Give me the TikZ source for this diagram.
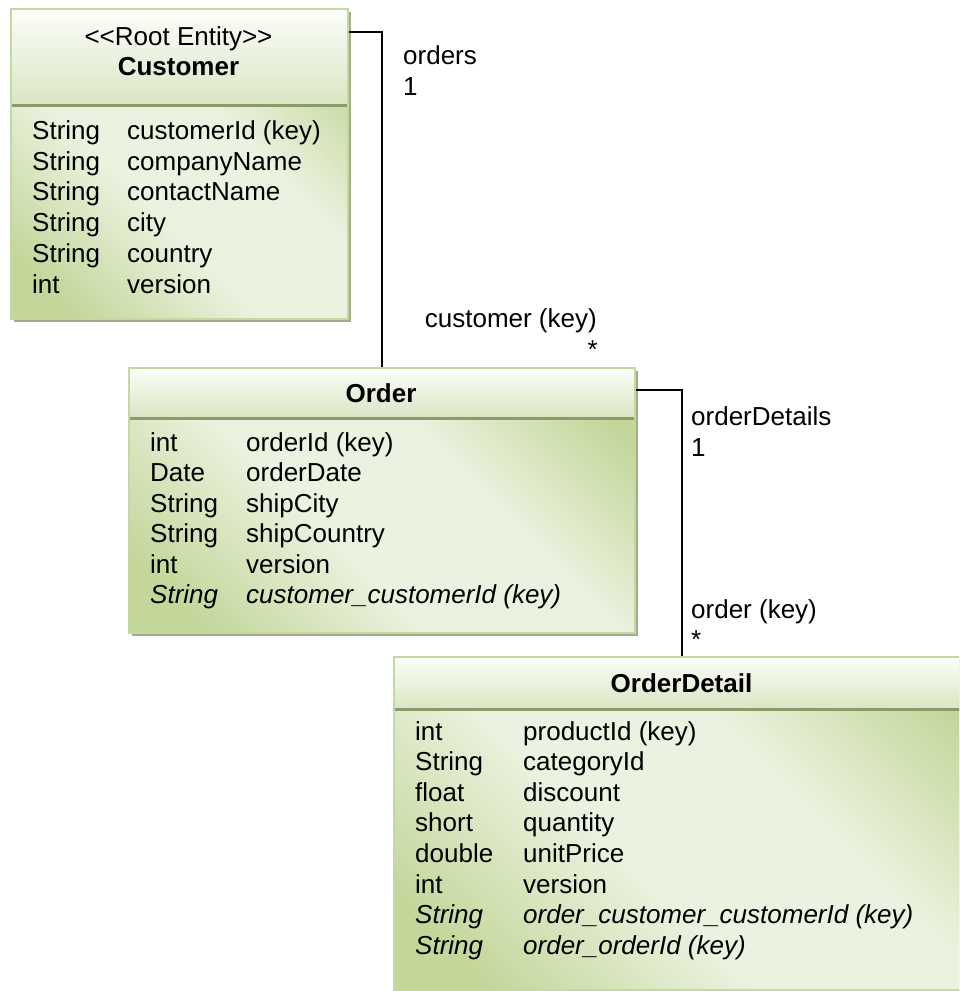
\documentclass[tikz,border=0pt]{standalone}
\usepackage{fontspec}
\setmainfont{Liberation Sans}
\usetikzlibrary{shadows}

\definecolor{boxedge}{HTML}{C3D9A1}
\definecolor{hdtop}{HTML}{FCFDF9}
\definecolor{hdbot}{HTML}{DAE6C4}
\definecolor{sepline}{HTML}{8A9A6A}
\definecolor{bodyg}{HTML}{C3D79B}
\definecolor{bodyl}{HTML}{EBF2DF}
\definecolor{shadowc}{HTML}{A3AD8B}

\pgfdeclarehorizontalshading{bodyshade}{100bp}{color(0bp)=(bodyg); color(22bp)=(bodyg); color(42bp)=(bodyl); color(60bp)=(bodyl); color(78bp)=(bodyg); color(100bp)=(bodyg)}

\tikzset{
  entity/.style={rectangle, draw=boxedge, line width=2pt, inner sep=0pt, anchor=north west,
    drop shadow={shadow xshift=3pt, shadow yshift=-3pt, fill=shadowc, opacity=1},
    path picture={
      \shade[shading=bodyshade, shading angle=45]
        (path picture bounding box.south west) rectangle (path picture bounding box.north east);
      \shade[top color=hdtop, bottom color=hdbot]
        (path picture bounding box.north west) rectangle ([yshift=-#1]path picture bounding box.north east);
      \fill[sepline]
        ([yshift=-#1]path picture bounding box.north west) rectangle ([yshift=-#1-3pt]path picture bounding box.north east);
    }},
  txt/.style={inner sep=0pt, anchor=base west, font=\fontsize{26pt}{31pt}\selectfont},
  ttl/.style={txt, anchor=base},
  ital/.style={txt, font=\fontsize{26pt}{31pt}\selectfont\itshape},
  conn/.style={draw=black, line width=2pt},
}

\begin{document}
\begin{tikzpicture}[x=1pt, y=-1pt]
\useasboundingbox (0,0) rectangle (959,991);
\clip (0,0) rectangle (959,991);

% entity boxes
\node[entity=95pt, minimum width=337pt, minimum height=310pt] (customer) at (10,8) {};
\node[entity=49pt, minimum width=506pt, minimum height=265pt] (order) at (128,367) {};
\node[entity=51pt, minimum width=600pt, minimum height=333pt] (detail) at (393,656) {};
\coordinate (detail-top) at ([xshift=288.5pt]detail.north west);

% Customer
\node[ttl] (cust-st) at (178.5,45) {<\kern0pt<Root Entity>\kern0pt>};
\node[ttl, font=\fontsize{26pt}{31pt}\selectfont\bfseries] (cust-name) at (178.5,75) {Customer};
\node[txt] (c1t) at (32,139.3) {String}; \node[txt] (c1n) at (127,139.3) {customerId (key)};
\node[txt] (c2t) at (32,170.1) {String}; \node[txt] (c2n) at (127,170.1) {companyName};
\node[txt] (c3t) at (32,200.9) {String}; \node[txt] (c3n) at (127,200.9) {contactName};
\node[txt] (c4t) at (32,231.7) {String}; \node[txt] (c4n) at (127,231.7) {city};
\node[txt] (c5t) at (32,262.5) {String}; \node[txt] (c5n) at (127,262.5) {country};
\node[txt] (c6t) at (32,293.3) {int};    \node[txt] (c6n) at (127,293.3) {version};

% Order
\node[ttl, font=\fontsize{26pt}{31pt}\selectfont\bfseries] (order-name) at (381,402) {Order};
\node[txt] (o1t) at (150,451)   {int};    \node[txt] (o1n) at (246,451)   {orderId (key)};
\node[txt] (o2t) at (150,481.5) {Date};   \node[txt] (o2n) at (246,481.5) {orderDate};
\node[txt] (o3t) at (150,512)   {String}; \node[txt] (o3n) at (246,512)   {shipCity};
\node[txt] (o4t) at (150,542.5) {String}; \node[txt] (o4n) at (246,542.5) {shipCountry};
\node[txt] (o5t) at (150,573)   {int};    \node[txt] (o5n) at (246,573)   {version};
\node[ital] (o6t) at (150,603.5) {String}; \node[ital] (o6n) at (246,603.5) {customer\_customerId (key)};

% OrderDetail
\node[ttl, font=\fontsize{26pt}{31pt}\selectfont\bfseries] (detail-name) at (681.5,692) {OrderDetail};
\node[txt] (d1t) at (415,740)   {int};    \node[txt] (d1n) at (523,740)   {productId (key)};
\node[txt] (d2t) at (415,770.6) {String}; \node[txt] (d2n) at (523,770.6) {categoryId};
\node[txt] (d3t) at (415,801.2) {float};  \node[txt] (d3n) at (523,801.2) {discount};
\node[txt] (d4t) at (415,831.8) {short};  \node[txt] (d4n) at (523,831.8) {quantity};
\node[txt] (d5t) at (415,862.4) {double}; \node[txt] (d5n) at (523,862.4) {unitPrice};
\node[txt] (d6t) at (415,893)   {int};    \node[txt] (d6n) at (523,893)   {version};
\node[ital] (d7t) at (415,923.6) {String}; \node[ital] (d7n) at (523,923.6) {order\_customer\_customerId (key)};
\node[ital] (d8t) at (415,954.2) {String}; \node[ital] (d8n) at (523,954.2) {order\_orderId (key)};

% associations
\coordinate (k1) at (0,32);
\coordinate (k2) at (0,390);
\draw[conn] (customer.east |- k1) -| (order.north);
\draw[conn] (order.east |- k2) -| (detail-top);

% association end labels
\node[txt] (l-orders) at (403,64) {orders};
\node[txt] (l-orders-m) at (403,95) {1};
\node[txt, anchor=base east] (l-cust) at (597,327) {customer (key)};
\node[txt, anchor=base east] (l-cust-m) at (598,358) {*};
\node[txt] (l-od) at (691,425) {orderDetails};
\node[txt] (l-od-m) at (691,456) {1};
\node[txt] (l-ord) at (691,618) {order (key)};
\node[txt] (l-ord-m) at (691,648) {*};
\end{tikzpicture}
\end{document}
